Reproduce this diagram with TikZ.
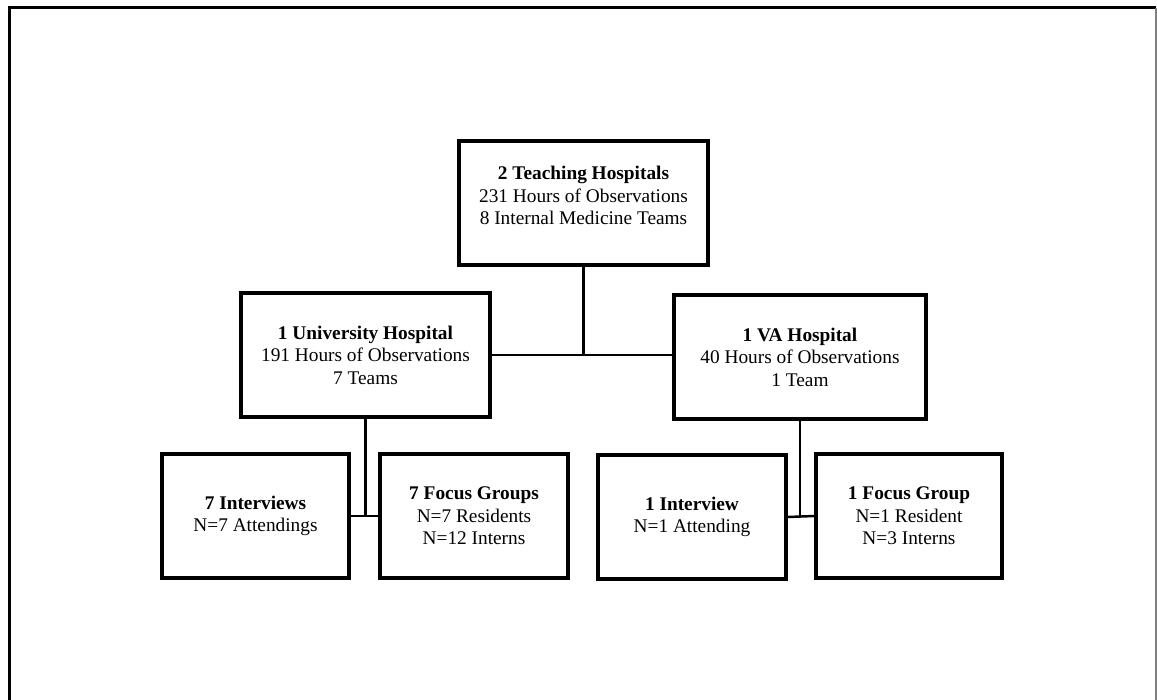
\documentclass[tikz,border=0pt]{standalone}
\usepackage{fontspec}
\setmainfont{Liberation Serif}

\begin{document}
\begin{tikzpicture}[x=0.02cm, y=-0.02cm,
		hbox/.style={draw, line width=1.8pt, minimum height=2.48cm, inner sep=0pt, align=center, font=\fontsize{11}{12.8}\selectfont}]
	\useasboundingbox (0,0) rectangle (1157,700);
	% outer frame, open at the bottom
	\draw[line width=1.7pt] (9.5,700) -- (9.5,7.5) -- (1156,7.5);
	\draw[gray, line width=0.6pt] (1156,7.5) -- (1156,700);

	\node (top)   at (583.5,203) [hbox, minimum width=4.98cm] {\textbf{2 Teaching Hospitals}\\231 Hours of Observations\\8 Internal Medicine Teams\rule[-0.3cm]{0pt}{0pt}};
	\node (uni)   at (365.5,355) [hbox, minimum width=4.98cm] {\textbf{1 University Hospital}\\191 Hours of Observations\\7 Teams};
	\node (va)    at (800,357)   [hbox, minimum width=5.04cm] {\textbf{1 VA Hospital}\\40 Hours of Observations\\1 Team};
	\node (uniint) at (255.5,516) [hbox, minimum width=3.74cm] {\textbf{7 Interviews}\\N=7 Attendings};
	\node (unifg) at (474,516)   [hbox, minimum width=3.76cm] {\textbf{7 Focus Groups}\\N=7 Residents\\N=12 Interns};
	\node (vaint) at (692,517)   [hbox, minimum width=3.76cm] {\textbf{1 Interview}\\N=1 Attending};
	\node (vafg)  at (909,516)   [hbox, minimum width=3.72cm] {\textbf{1 Focus Group}\\N=1 Resident\\N=3 Interns};

	% connectors
	\draw[line width=1.4pt] (top.south) -- (top.south |- uni.east);
	\draw[line width=1.4pt] (uni.east) -- (uni.east -| va.west);
	\draw[line width=1.4pt] (uni.south) -- (uni.south |- uniint.east);
	\draw[line width=1.4pt] (uniint.east) -- (unifg.west);
	\draw[line width=1.4pt] (va.south) -- (va.south |- vaint.east);
	\draw[line width=1.4pt] (vaint.east) -- (vafg.west);
\end{tikzpicture}
\end{document}
